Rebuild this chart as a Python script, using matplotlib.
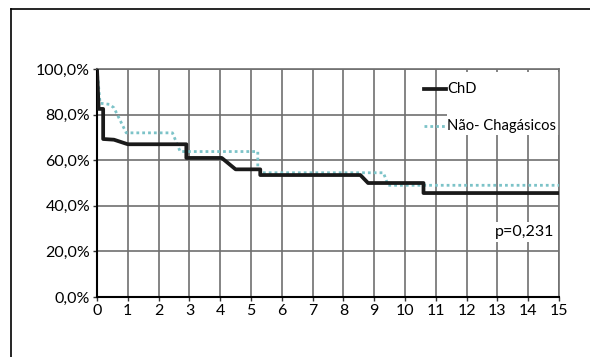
import matplotlib.pyplot as plt
from matplotlib.lines import Line2D
from matplotlib.patches import Rectangle

plt.rcParams["font.family"] = ["Lato", "DejaVu Sans"]

# survival curves (years, %)
t_chd = [0, 0.05, 0.05, 0.2, 0.2, 0.55, 1.0, 2.9, 2.9, 4.05, 4.5, 5.3, 5.3, 8.55, 8.8, 10.6, 10.6, 15]
s_chd = [100, 84, 82.5, 82.5, 69.3, 69, 67, 67, 61, 61, 56, 56, 53.5, 53.5, 50, 50, 45.6, 45.6]

t_nch = [0, 0.1, 0.4, 0.55, 0.95, 2.45, 2.7, 5.22, 5.22, 5.35, 9.3, 9.45, 15]
s_nch = [100, 85, 84.5, 83, 72, 72, 63.8, 63.8, 57, 54.5, 54.5, 49, 49]

x_ticks = list(range(0, 16))
y_ticks = [0, 20, 40, 60, 80, 100]
y_labels = ["0,0%", "20,0%", "40,0%", "60,0%", "80,0%", "100,0%"]
p_text = "p=0,231"

fs = 11.5
fs_leg = 10.6

fig = plt.figure(figsize=(5.9, 3.57), dpi=100)
ax = fig.add_axes([0.1644, 0.168, 0.7831, 0.6387])

ax.plot(t_nch, s_nch, color="#7cc3c8", lw=2.0, ls=(0, (1, 1.1)), zorder=3)
ax.plot(t_chd, s_chd, color="#1a1a1a", lw=2.7, zorder=4, solid_joinstyle="round")

ax.set_xlim(0, 15)
ax.set_ylim(0, 100)
ax.set_xticks(x_ticks)
ax.set_yticks(y_ticks)
ax.set_yticklabels(y_labels)
ax.tick_params(labelsize=fs, length=3, width=1, pad=2, color="#333333")
ax.grid(True, color="#707070", lw=1.2)
ax.set_axisbelow(True)

for side in ["top", "right"]:
    ax.spines[side].set_color("#707070")
    ax.spines[side].set_linewidth(1.2)
for side in ["left", "bottom"]:
    ax.spines[side].set_color("black")
    ax.spines[side].set_linewidth(1.5)

# legend box
ax.add_patch(Rectangle((0.757, 0.71), 0.245, 0.275, transform=ax.transAxes,
                       facecolor="white", edgecolor="none", zorder=2, clip_on=False))
ax.plot([0.708, 0.755], [0.912, 0.912], transform=ax.transAxes, color="#1a1a1a", lw=2.7, zorder=5)
ax.plot([0.708, 0.755], [0.75, 0.75], transform=ax.transAxes, color="#7cc3c8", lw=2.0,
        ls=(0, (1, 1.1)), zorder=5)
ax.text(0.758, 0.912, "ChD", transform=ax.transAxes, fontsize=fs_leg, va="center", zorder=6)
ax.text(0.758, 0.75, "Não- Chagásicos", transform=ax.transAxes, fontsize=fs_leg, va="center", zorder=6)

ax.text(0.99, 0.285, p_text, transform=ax.transAxes, fontsize=fs, ha="right", va="center",
        bbox=dict(facecolor="white", edgecolor="none", pad=2), zorder=6)

# outer frame
fig.add_artist(Line2D([11 / 590, 11 / 590], [0, 1 - 9 / 357], color="black", lw=1.2))
fig.add_artist(Line2D([11 / 590, 1], [1 - 9 / 357, 1 - 9 / 357], color="black", lw=1.2))

fig.savefig("out.png", dpi=100)
